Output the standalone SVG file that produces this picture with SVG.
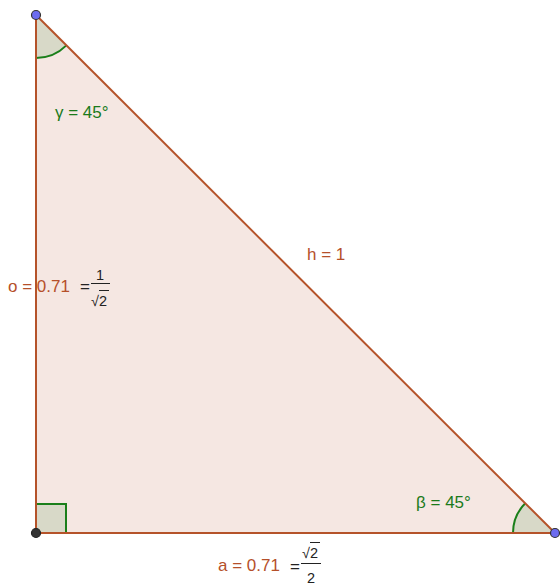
<svg xmlns="http://www.w3.org/2000/svg" width="560" height="588" viewBox="0 0 560 588">
<style>
.lbl{font-family:"Liberation Sans",Arial,sans-serif;font-size:17px}
.brown{fill:#b5502a}
.green{fill:#1a7a1a}
.frac{font-family:"Liberation Sans",Arial,sans-serif;font-size:14.5px;fill:#222}
.side{stroke:#b5532a;stroke-width:2;fill:none}
.ang{fill:#d8d9c8;stroke:none}
.arc{fill:none;stroke:#1a7f1a;stroke-width:2}
</style>
<rect width="560" height="588" fill="#fff"/>
<g id="triangle">
<polygon points="36,15 36,533 555,533" fill="#f5e7e2"/>
</g>
<g id="angles">
<path class="ang" d="M36,15 L36,58 A43,43 0 0 0 66.4,45.4 Z"/>
<path class="arc" d="M36,58 A43,43 0 0 0 66.4,45.4"/>
<path class="ang" d="M555,533 L513,533 A42,42 0 0 1 525.3,503.3 Z"/>
<path class="arc" d="M513,533 A42,42 0 0 1 525.3,503.3"/>
<rect class="ang" x="36" y="504" width="30" height="29"/>
<path class="arc" d="M36,504 H66 V533"/>
</g>
<g id="connectors">
<line class="side" x1="36" y1="15" x2="36" y2="533"/>
<line class="side" x1="36" y1="533" x2="555" y2="533"/>
<line class="side" x1="36" y1="15" x2="555" y2="533"/>
</g>
<g id="labels">
<text class="lbl green" x="55" y="118">γ = 45°</text>
<text class="lbl brown" x="307" y="260">h = 1</text>
<text class="lbl green" x="416" y="508">β = 45°</text>
<text class="lbl brown" x="8" y="292">o = 0.71</text>
<text class="lbl" x="80" y="292" fill="#222" font-size="13">=</text>
<text class="frac" x="96" y="280">1</text>
<line x1="91" y1="283.5" x2="110" y2="283.5" stroke="#222" stroke-width="1"/>
<text class="frac" x="91" y="306">√2</text>
<line x1="99" y1="290.5" x2="109" y2="290.5" stroke="#222" stroke-width="1"/>
<text class="lbl brown" x="218" y="571">a = 0.71</text>
<text class="lbl" x="290" y="572" fill="#222" font-size="13">=</text>
<text class="frac" x="302" y="558">√2</text>
<line x1="310" y1="542.5" x2="320" y2="542.5" stroke="#222" stroke-width="1"/>
<line x1="301" y1="563.5" x2="321" y2="563.5" stroke="#222" stroke-width="1"/>
<text class="frac" x="307" y="583">2</text>
</g>
<g id="points">
<circle cx="36" cy="15" r="4.5" fill="#6c6cf0" stroke="#333" stroke-width="1.2"/>
<circle cx="36" cy="533" r="4.5" fill="#333" stroke="#222" stroke-width="1.2"/>
<circle cx="555" cy="533" r="4.5" fill="#6c6cf0" stroke="#333" stroke-width="1.2"/>
</g>
</svg>
